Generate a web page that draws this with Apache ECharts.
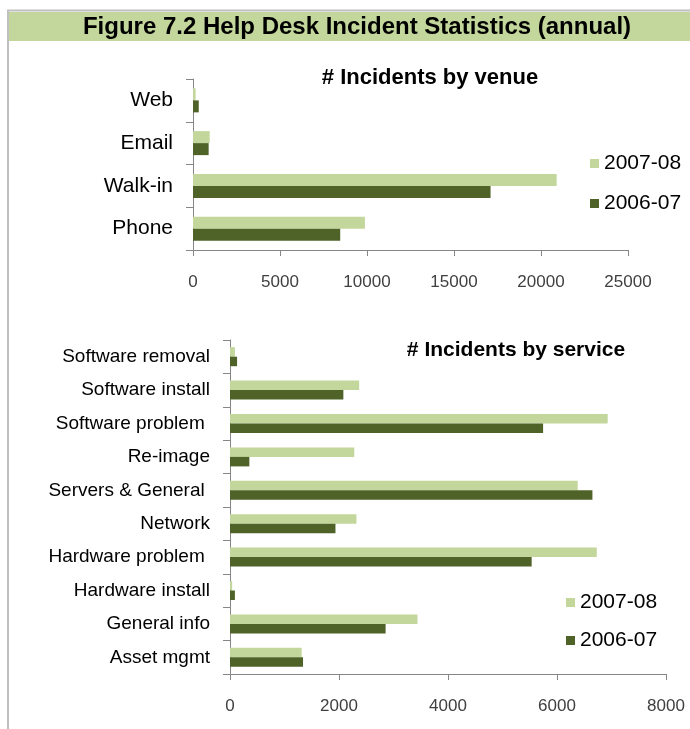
<!DOCTYPE html>
<html>
<head>
<meta charset="utf-8">
<script src="https://cdn.jsdelivr.net/npm/echarts@6/dist/echarts.min.js"></script>
<style>
  html, body { margin: 0; padding: 0; background: #fff; }
  #chart { width: 690px; height: 729px; }
</style>
</head>
<body>
<div id="chart"></div>
<script>
// venue chart (bottom to top)
var venueCats = ['Phone', 'Walk-in', 'Email', 'Web']
var venue0708 = [9880, 20900, 960, 150]
var venue0607 = [8460, 17100, 900, 330]
var venueTicks = [0, 5000, 10000, 15000, 20000, 25000]

// service chart (bottom to top)
var serviceCats = ['Asset mgmt', 'General info', 'Hardware install', 'Hardware problem ', 'Network',
  'Servers & General ', 'Re-image', 'Software problem ', 'Software install', 'Software removal']
var service0708 = [1315, 3440, 40, 6730, 2320, 6380, 2280, 6930, 2370, 90]
var service0607 = [1340, 2855, 90, 5535, 1935, 6650, 355, 5745, 2080, 130]
var serviceTicks = [0, 2000, 4000, 6000, 8000]

var seriesNames = ['2007-08', '2006-07']
var light = '#c3d69b'
var dark = '#4f6228'
var font = "'Liberation Sans', Arial, sans-serif"

var myChart = echarts.init(document.getElementById('chart'))

function valueAxis(gridIndex, ticks) {
  return {
    type: 'value',
    gridIndex: gridIndex,
    min: ticks[0],
    max: ticks[ticks.length - 1],
    interval: ticks[1] - ticks[0],
    splitLine: { show: false },
    axisLine: { show: true, lineStyle: { color: '#868686' } },
    axisTick: { show: true, length: 6, lineStyle: { color: '#868686' } },
    axisLabel: {
      fontFamily: font, fontSize: 17, color: '#404040', margin: 24,
      formatter: function(v) { return String(v) }
    }
  }
}

function catAxis(gridIndex, cats, size) {
  return {
    type: 'category',
    gridIndex: gridIndex,
    data: cats,
    axisLine: { show: true, lineStyle: { color: '#868686' } },
    axisTick: { show: true, length: 7, lineStyle: { color: '#868686' } },
    axisLabel: { fontFamily: font, fontSize: size, color: '#000', margin: 20 }
  }
}

function bars(idx, name, data, color, width) {
  return {
    name: name,
    type: 'bar',
    xAxisIndex: idx,
    yAxisIndex: idx,
    data: data,
    barWidth: width,
    barGap: '0%',
    itemStyle: { color: color }
  }
}

const option = {
  animation: false,
  backgroundColor: '#fff',
  graphic: [
    { type: 'rect', shape: { x: 9, y: 12, width: 681, height: 29 }, style: { fill: '#c3d69b' } },
    { type: 'line', shape: { x1: 7, y1: 10.5, x2: 690, y2: 10.5 }, style: { stroke: '#c0c0c0', lineWidth: 2 } },
    { type: 'line', shape: { x1: 8, y1: 10, x2: 8, y2: 729 }, style: { stroke: '#c0c0c0', lineWidth: 2 } },
    {
      type: 'text', x: 357, y: 27,
      style: { text: 'Figure 7.2 Help Desk Incident Statistics (annual)', font: 'bold 24px ' + font, fill: '#000', align: 'center', verticalAlign: 'middle' }
    },
    {
      type: 'text', x: 430, y: 78,
      style: { text: '# Incidents by venue', font: 'bold 22px ' + font, fill: '#000', align: 'center', verticalAlign: 'middle' }
    },
    {
      type: 'text', x: 516, y: 350,
      style: { text: '# Incidents by service', font: 'bold 21px ' + font, fill: '#000', align: 'center', verticalAlign: 'middle' }
    }
  ],
  legend: [
    {
      data: seriesNames, orient: 'vertical', left: 585, top: 148, itemGap: 19,
      icon: 'rect', itemWidth: 9, itemHeight: 9,
      textStyle: { fontFamily: font, fontSize: 21, color: '#000' }
    },
    {
      data: seriesNames, orient: 'vertical', left: 561, top: 587, itemGap: 17,
      icon: 'rect', itemWidth: 9, itemHeight: 9,
      textStyle: { fontFamily: font, fontSize: 21, color: '#000' }
    }
  ],
  grid: [
    { left: 193, right: 62, top: 79, height: 171, containLabel: false },
    { left: 230, right: 24, top: 340, height: 334, containLabel: false }
  ],
  xAxis: [valueAxis(0, venueTicks), valueAxis(1, serviceTicks)],
  yAxis: [catAxis(0, venueCats, 21), catAxis(1, serviceCats, 19)],
  series: [
    bars(0, seriesNames[0], venue0708, light, 12),
    bars(0, seriesNames[1], venue0607, dark, 12),
    bars(1, seriesNames[0], service0708, light, 9.5),
    bars(1, seriesNames[1], service0607, dark, 9.5)
  ]
}
myChart.setOption(option)
</script>
</body>
</html>
